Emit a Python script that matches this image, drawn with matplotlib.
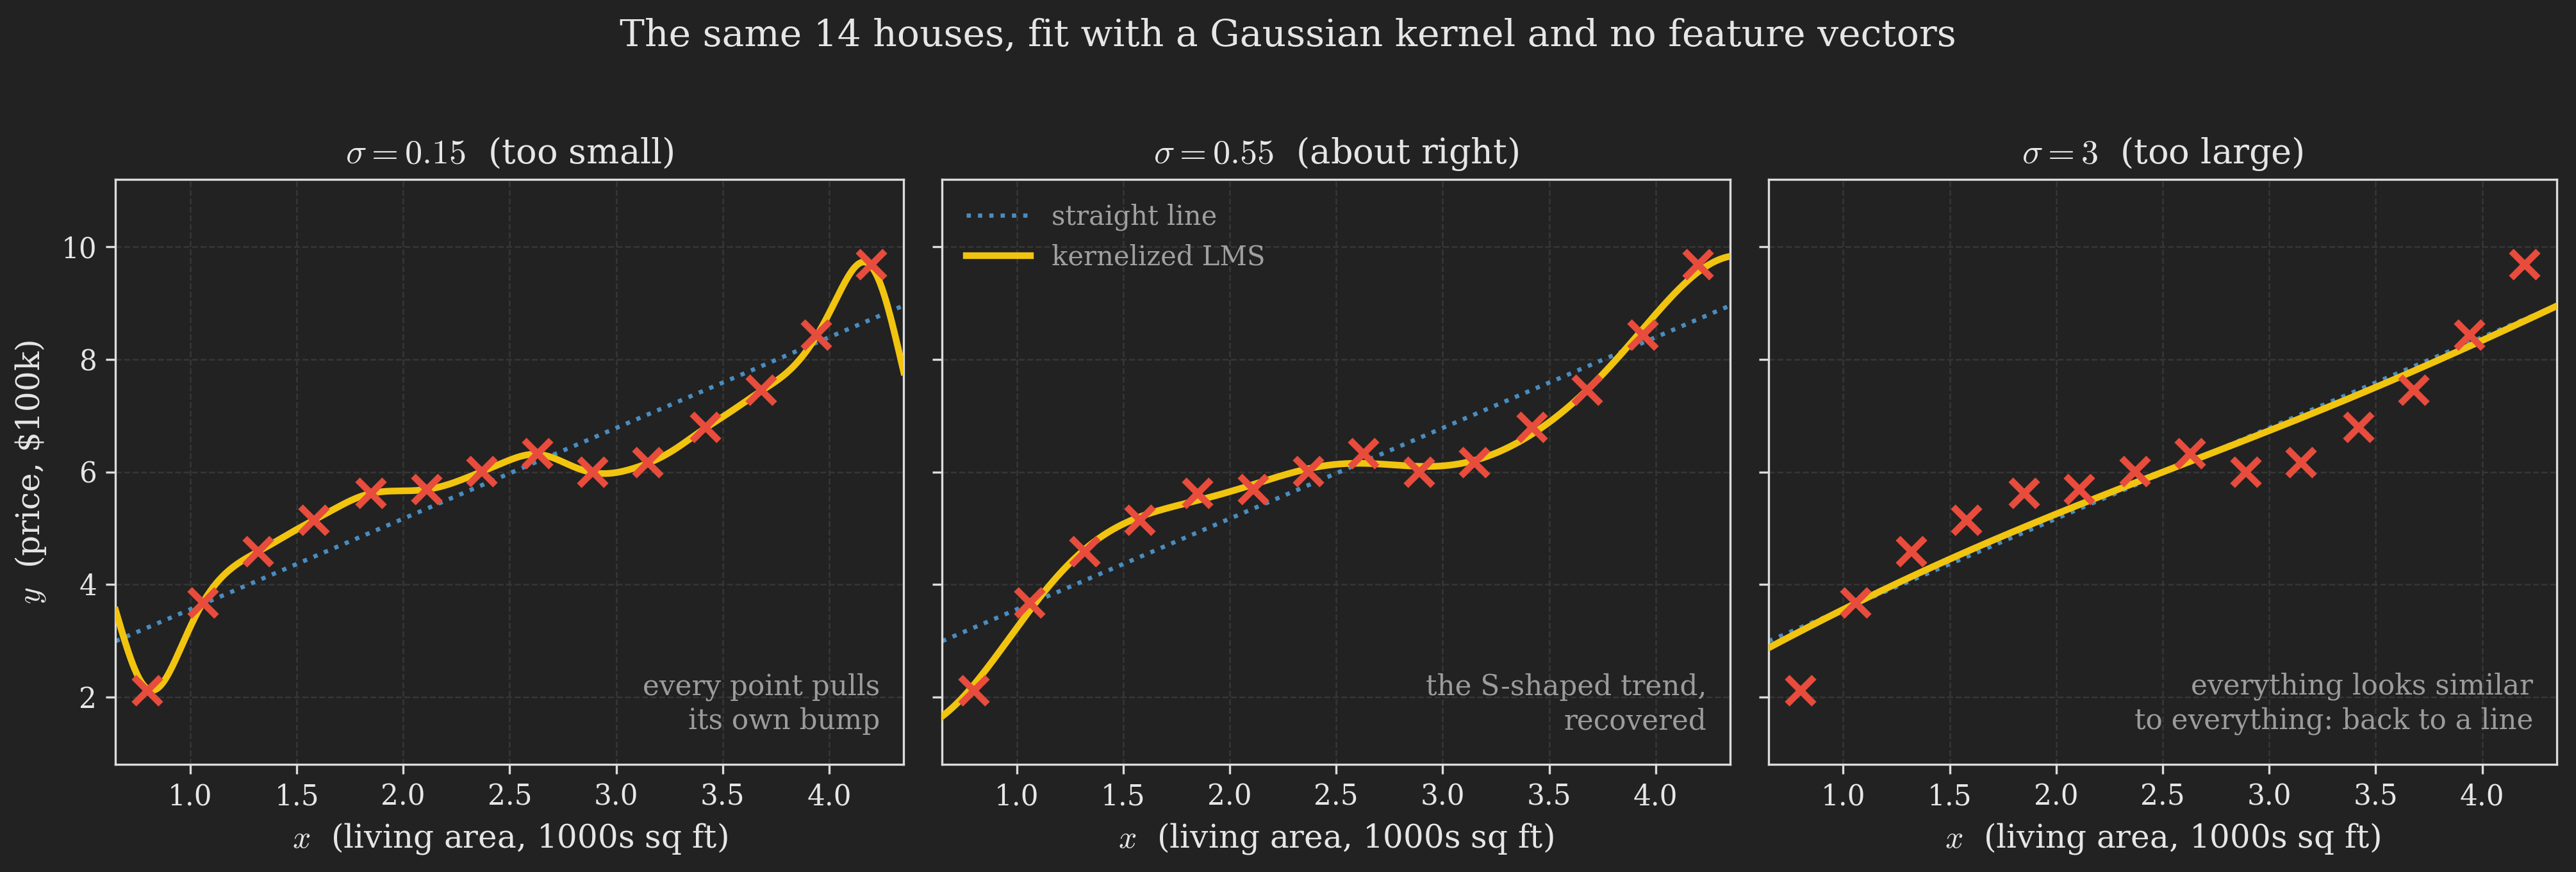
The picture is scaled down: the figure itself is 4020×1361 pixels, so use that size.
import numpy as np
import matplotlib
matplotlib.use("Agg")
import matplotlib.pyplot as plt

## 14 houses (1000s sq ft, $100k)
area = [0.80, 1.06, 1.32, 1.58, 1.85, 2.11, 2.37, 2.63, 2.89, 3.15, 3.42, 3.68, 3.94, 4.20]
price = [2.11, 3.67, 4.58, 5.14, 5.62, 5.69, 6.01, 6.32, 5.99, 6.16, 6.79, 7.45, 8.43, 9.68]

sigmas = [0.15, 0.55, 3]
sigma_text = ["0.15", "0.55", "3"]
verdicts = ["too small", "about right", "too large"]
notes = ["every point pulls\nits own bump",
         "the S-shaped trend,\nrecovered",
         "everything looks similar\nto everything: back to a line"]
xticks = [1.0, 1.5, 2.0, 2.5, 3.0, 3.5, 4.0]
yticks = [2, 4, 6, 8, 10]

BG = "#222222"
FG = "#e6e6e6"
SPINE = "#dcdcdc"
YELLOW = "#f1c40f"
RED = "#e74c3c"
BLUE = "#4a8cbf"
GREY = "#9c9c9c"

plt.rcParams["font.family"] = "DejaVu Serif"
plt.rcParams["mathtext.fontset"] = "cm"


def gauss(a, b, sigma):
    return np.exp(-(a[:, None] - b[None, :]) ** 2 / (2 * sigma ** 2))


def kernel_fit(x, y, sigma, grid, lam=0.01):
    # kernel LMS with a bias term: K(x, z) = 1 + exp(-|x-z|^2 / 2 sigma^2)
    K = 1.0 + gauss(x, x, sigma)
    beta = np.linalg.solve(K + lam * np.eye(len(x)), y)
    return (1.0 + gauss(grid, x, sigma)) @ beta


x = np.array(area)
y = np.array(price)
grid = np.linspace(0.65, 4.35, 500)
slope, icpt = np.polyfit(x, y, 1)

fig, axes = plt.subplots(1, 3, figsize=(13.4, 4.5367), dpi=300, sharey=True)
fig.patch.set_facecolor(BG)
fig.subplots_adjust(left=0.0449, right=0.9925, bottom=0.1234, top=0.7943, wspace=0.0488)

for i, ax in enumerate(axes):
    ax.set_facecolor(BG)
    ax.grid(True, color="#363636", lw=0.6, ls="--")
    ax.set_axisbelow(True)
    for s in ax.spines.values():
        s.set_color(SPINE)
        s.set_linewidth(0.8)
    ax.tick_params(colors=SPINE, labelcolor=FG, labelsize=10.5)

    ax.plot(grid, slope * grid + icpt, ls=":", color=BLUE, lw=1.6, zorder=2, label="straight line")
    ax.plot(grid, kernel_fit(x, y, sigmas[i], grid), color=YELLOW, lw=2.5, zorder=3, label="kernelized LMS")
    ax.plot(x, y, ls="none", marker="x", ms=10, mew=2.5, color=RED, zorder=4)

    ax.set_xlim(0.65, 4.35)
    ax.set_ylim(0.8, 11.2)
    ax.set_xticks(xticks)
    ax.set_yticks(yticks)
    ax.set_title(r"$\sigma = %s$  (%s)" % (sigma_text[i], verdicts[i]), color=FG, fontsize=13)
    ax.set_xlabel(r"$x$  (living area, 1000s sq ft)", color=FG, fontsize=12)
    ax.text(0.97, 0.05, notes[i], transform=ax.transAxes, ha="right", va="bottom",
            color=GREY, fontsize=10.5, linespacing=1.3)

axes[0].set_ylabel(r"$y$  (price, \$100k)", color=FG, fontsize=12, labelpad=5)
leg = axes[1].legend(loc="upper left", frameon=False, fontsize=10, handlelength=2.4)
for t in leg.get_texts():
    t.set_color("#a0a0a0")

fig.suptitle("The same 14 houses, fit with a Gaussian kernel and no feature vectors",
             color=FG, fontsize=14, y=0.98, va="top")

fig.savefig("out.png", dpi=300, facecolor=BG)
